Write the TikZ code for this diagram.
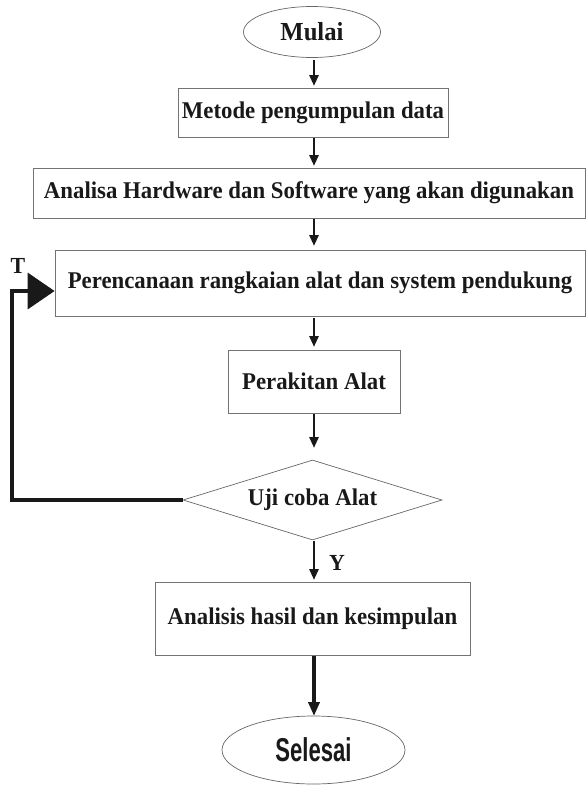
\documentclass[tikz,border=0pt]{standalone}
\usepackage{fontspec}
\setmainfont[FakeStretch=0.95]{Liberation Serif}
\newfontfamily\endfont[FakeStretch=0.67]{Liberation Sans}
\usetikzlibrary{arrows.meta,shapes.geometric}
\begin{document}
\begin{tikzpicture}[x=1pt,y=-1pt,
  every node/.style={font=\bfseries\fontsize{24}{26}\selectfont, text=black!90},
  procbox/.style={draw=black!55, line width=0.8pt, rectangle, inner sep=0pt},
  terminal/.style={draw=black!60, line width=0.7pt, ellipse, inner sep=0pt},
  decision/.style={draw=black!60, line width=0.7pt, diamond, inner sep=0pt},
  flow/.style={line width=2.8pt, black!90, -{Triangle[length=11pt,width=9pt]}},
  lbl/.style={font=\bfseries\fontsize{23}{25}\selectfont}]
  \useasboundingbox (0,0) rectangle (586,785);

  \node[terminal, minimum width=137pt, minimum height=51pt, font=\bfseries\fontsize{26}{28}\selectfont] (mulai) at (312,32) {Mulai};
  \node[procbox, minimum width=270pt, minimum height=49pt] (metode) at (313,112.5) {Metode pengumpulan data};
  \node[procbox, minimum width=552pt, minimum height=50pt] (analisa) at (309,193) {Analisa Hardware dan Software yang akan digunakan};
  \node[procbox, minimum width=530pt, minimum height=66pt] (rencana) at (320,283) {Perencanaan rangkaian alat dan system pendukung};
  \node[procbox, minimum width=172pt, minimum height=63pt] (rakit) at (314,381.5) {Perakitan Alat};
  \node[decision, minimum width=259pt, minimum height=80pt, aspect=3.2] (uji) at (312.5,500) {Uji coba Alat};
  \node[procbox, minimum width=315pt, minimum height=73pt] (hasil) at (312.5,618.5) {Analisis hasil dan kesimpulan};
  \node[terminal, minimum width=183pt, minimum height=68pt, font=\endfont\bfseries\fontsize{33}{35}\selectfont] (selesai) at (313.5,750) {Selesai};

  \draw[flow] (314,60) -- (314,86);
  \draw[flow] (314,138) -- (314,166);
  \draw[flow] (314,219) -- (314,246);
  \draw[flow] (314,318) -- (314,347);
  \draw[flow] (314,414) -- (314,448);
  \draw[flow] (314,541) -- (314,580);
  \draw[flow, line width=3.6pt, -{Triangle[length=14pt,width=11pt]}] (314,656) -- (314,716);

  % loop back from the test to the planning stage
  \coordinate (corner1) at (12,500);
  \coordinate (corner2) at (12,291);
  \draw[line width=3.8pt, black!90, -{Triangle[length=27pt,width=36pt]}]
    (uji.west) -- (corner1) -- (corner2) -- (rencana.west |- corner2);

  \node[lbl] (tlabel) at (18,266) {T};
  \node[lbl] (ylabel) at (337,563) {Y};
\end{tikzpicture}
\end{document}
